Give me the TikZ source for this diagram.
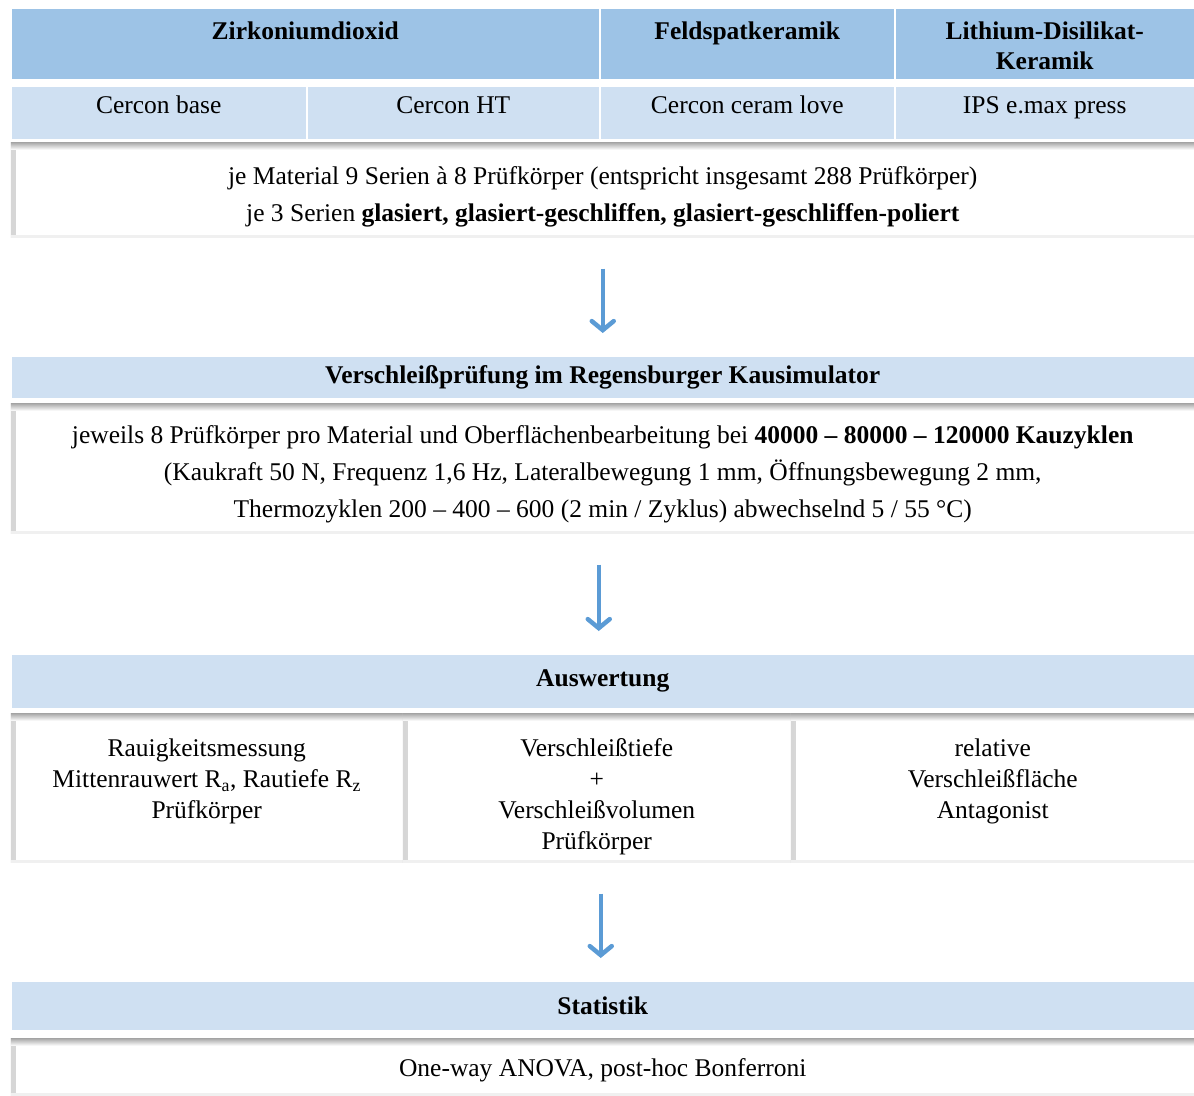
\documentclass[tikz,border=0pt]{standalone}
\usepackage{fontspec}
\setmainfont{Liberation Serif}
\usepackage{tikz}
\usetikzlibrary{arrows.meta,calc}
\definecolor{headblue}{RGB}{157,195,230}
\definecolor{paleblue}{RGB}{207,224,242}
\definecolor{arrowblue}{RGB}{91,155,213}

\begin{document}
\begin{tikzpicture}[x=1pt,y=-1pt]
\tikzset{
	cell/.style = {rectangle, draw=white, line width=1.5pt, inner sep=0, anchor=north west, align=center, font=\fontsize{25.5}{30}\selectfont},
	top cell/.style = {cell, fill=headblue, text height=52pt, text depth=0pt, font=\fontsize{25.5}{30}\selectfont\bfseries},
	sub cell/.style = {cell, fill=paleblue, text height=18pt, text depth=16pt},
	bar cell/.style = {cell, fill=paleblue, font=\fontsize{25.5}{30}\selectfont\bfseries},
	inset cell/.style = {cell, draw=none, fill=white, text depth=0pt, font=\fontsize{25.5}{37}\selectfont,
		path picture = {
			\shade[left color=gray!32, right color=white] (path picture bounding box.north west) rectangle ([xshift=5pt]path picture bounding box.south west);
			\shade[top color=gray!65, bottom color=white] (path picture bounding box.north west) rectangle ([yshift=-7pt]path picture bounding box.north east);
			\fill[gray!12] ([yshift=3pt]path picture bounding box.south west) rectangle (path picture bounding box.south east);
		}},
	flow arrow/.style = {draw=arrowblue, line width=4.5pt, -{Straight Barb[length=9pt,width=22pt,line cap=round]}, shorten <= 30pt, shorten >= 22pt},
}
\useasboundingbox (0,0) rectangle (1194,1095);

% materials
\node(zr)[top cell, minimum width=589pt, minimum height=72pt] at (10,7) {Zirkoniumdioxid\\~};
\node(fk)[top cell, minimum width=295pt, minimum height=72pt] at (599,7) {Feldspatkeramik\\~};
\node(li)[top cell, minimum width=300pt, minimum height=72pt] at (894,7) {Lithium-Disilikat-\\Keramik};

\node(cb)[sub cell, minimum width=296pt, minimum height=54pt] at (10,85) {Cercon base};
\node(ch)[sub cell, minimum width=293pt, minimum height=54pt] at (306,85) {Cercon HT};
\node(cl)[sub cell, minimum width=295pt, minimum height=54pt] at (599,85) {Cercon ceram love};
\node(ips)[sub cell, minimum width=300pt, minimum height=54pt] at (894,85) {IPS e.max press};

\node(series)[inset cell, minimum width=1184pt, minimum height=95pt, text height=63pt] at (10,142)
	{je Material 9 Serien à 8 Prüfkörper (entspricht insgesamt 288 Prüfkörper)\\
	 je 3 Serien \textbf{glasiert, glasiert-geschliffen, glasiert-geschliffen-poliert}};

% wear test
\node(wear)[bar cell, minimum width=1184pt, minimum height=43pt] at (10,355) {Verschleißprüfung im Regensburger Kausimulator};
\node(cycles)[inset cell, minimum width=1184pt, minimum height=130pt, text height=98pt] at (10,403)
	{jeweils 8 Prüfkörper pro Material und Oberflächenbearbeitung bei \textbf{40000 – 80000 – 120000 Kauzyklen}\\
	 (Kaukraft 50 N, Frequenz 1,6 Hz, Lateralbewegung 1 mm, Öffnungsbewegung 2 mm,\\
	 Thermozyklen 200 – 400 – 600 (2 min / Zyklus) abwechselnd 5 / 55 °C)};

% evaluation
\node(eval)[bar cell, minimum width=1184pt, minimum height=55pt] at (10,653) {Auswertung};
\node(rough)[inset cell, minimum width=392pt, minimum height=149pt, text height=123pt, font=\fontsize{25.5}{31}\selectfont] at (10,713)
	{Rauigkeitsmessung\\Mittenrauwert R\textsubscript{a}, Rautiefe R\textsubscript{z}\\Prüfkörper\\~};
\node(depth)[inset cell, minimum width=388pt, minimum height=149pt, text height=123pt, font=\fontsize{25.5}{31}\selectfont] at (402,713)
	{Verschleißtiefe\\+\\Verschleißvolumen\\Prüfkörper};
\node(area)[inset cell, minimum width=404pt, minimum height=149pt, text height=123pt, font=\fontsize{25.5}{31}\selectfont] at (790,713)
	{relative\\Verschleißfläche\\Antagonist\\~};

% statistics
\node(stat)[bar cell, minimum width=1184pt, minimum height=50pt] at (10,980) {Statistik};
\node(anova)[inset cell, minimum width=1184pt, minimum height=57pt] at (10,1038) {One-way ANOVA, post-hoc Bonferroni};

\draw[flow arrow] (series.south) -- (wear.north);
\draw[flow arrow] ([xshift=-4pt]cycles.south) -- ([xshift=-4pt]eval.north);
\draw[flow arrow] ([xshift=-2pt]depth.south -| eval.south) -- ([xshift=-2pt]stat.north);

\end{tikzpicture}
\end{document}
